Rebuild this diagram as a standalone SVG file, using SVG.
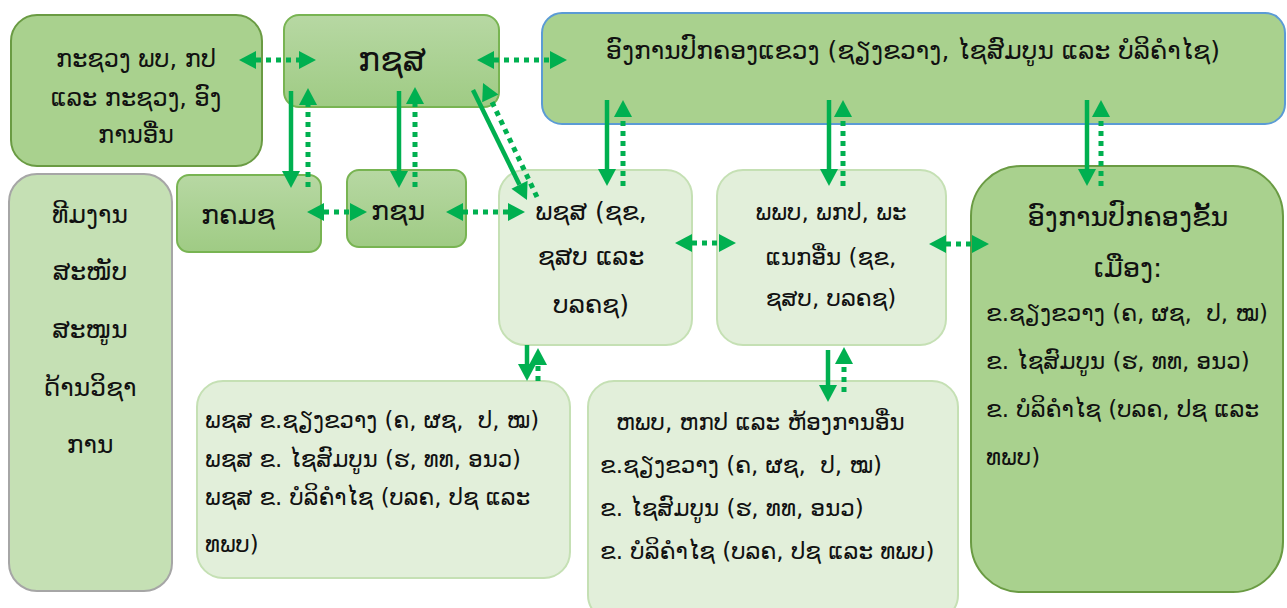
<svg xmlns="http://www.w3.org/2000/svg" width="1287" height="608" viewBox="0 0 1287 608">
<defs>
<linearGradient id="gd" x1="0" y1="0" x2="0" y2="1">
<stop offset="0" stop-color="#b7d8a3"/>
<stop offset="1" stop-color="#9fcb84"/>
</linearGradient>
<marker id="ah" markerUnits="userSpaceOnUse" markerWidth="18" markerHeight="18" refX="0" refY="9" orient="auto-start-reverse" overflow="visible">
<path d="M0,0 L17,9 L0,18 z" fill="#00b050"/>
</marker>
<style>
text{font-family:"DejaVu Sans","Noto Sans",sans-serif;fill:#111;white-space:pre}
.mid{fill:#a9d18e;stroke:#6a9b43;stroke-width:2}
.dk{fill:url(#gd);stroke:#78b452;stroke-width:2}
.lt{fill:#e2efda;stroke:#c5e0b4;stroke-width:2}
.gr{fill:#c5e0b4;stroke:#a6a6a6;stroke-width:2}
.sol{stroke:#00b050;stroke-width:4.5;fill:none;marker-end:url(#ah)}
.dot{stroke:#00b050;stroke-width:5;fill:none;stroke-dasharray:5 5;marker-end:url(#ah)}
.bi{stroke:#00b050;stroke-width:5;fill:none;stroke-dasharray:5 5;marker-start:url(#ah);marker-end:url(#ah)}
.c{text-anchor:middle}
</style>
</defs>

<g id="node-ministries">
<rect class="mid" x="11" y="15" width="251" height="151" rx="26"/>
<text class="c" x="136" y="67" font-size="24">ກະຊວງ ພບ, ກປ</text>
<text class="c" x="136" y="106" font-size="24">ແລະ ກະຊວງ, ອົງ</text>
<text class="c" x="136" y="143" font-size="24">ການອື່ນ</text>
</g>

<g id="node-kss">
<rect class="dk" x="284" y="15" width="215" height="92" rx="15"/>
<text class="c" x="392" y="71" font-size="33">ກຊສ</text>
</g>

<g id="node-province">
<rect x="542" y="13" width="743" height="111" rx="20" fill="#a9d18e" stroke="#5b9bd5" stroke-width="2"/>
<text class="c" x="913" y="59" font-size="25">ອົງການປົກຄອງແຂວງ (ຊຽງຂວາງ, ໄຊສົມບູນ ແລະ ບໍລິຄໍາໄຊ)</text>
</g>

<g id="node-kkmk">
<rect class="dk" x="177" y="175" width="144" height="77" rx="12"/>
<text x="201" y="224" font-size="27">ກຄມຊ</text>
</g>

<g id="node-ksn">
<rect class="dk" x="347" y="170" width="119" height="77" rx="12"/>
<text x="371" y="220" font-size="27">ກຊນ</text>
</g>

<g id="node-team">
<rect class="gr" x="9" y="174" width="163" height="417" rx="28"/>
<text class="c" x="90" y="223" font-size="25">ທີມງານ</text>
<text class="c" x="90" y="280" font-size="25">ສະໜັບ</text>
<text class="c" x="90" y="338" font-size="25">ສະໜູນ</text>
<text class="c" x="90" y="396" font-size="25">ດ້ານວິຊາ</text>
<text class="c" x="90" y="453" font-size="25">ການ</text>
</g>

<g id="node-pkss">
<rect class="lt" x="499" y="170" width="193" height="175" rx="26"/>
<text class="c" x="591" y="220" font-size="25">ພຊສ (ຊຂ,</text>
<text class="c" x="591" y="265" font-size="25">ຊສບ ແລະ</text>
<text class="c" x="591" y="313" font-size="25">ບລຄຊ)</text>
</g>

<g id="node-ppb">
<rect class="lt" x="717" y="170" width="229" height="175" rx="26"/>
<text class="c" x="831" y="220" font-size="23">ພພບ, ພກປ, ພະ</text>
<text class="c" x="831" y="265" font-size="23">ແນກອື່ນ (ຊຂ,</text>
<text class="c" x="831" y="306" font-size="23">ຊສບ, ບລຄຊ)</text>
</g>

<g id="node-district">
<rect class="mid" x="971" y="166" width="312" height="426" rx="50" stroke="#70ad47"/>
<text class="c" x="1128" y="226" font-size="27">ອົງການປົກຄອງຂັ້ນ</text>
<text class="c" x="1128" y="277" font-size="27">ເມືອງ:</text>
<text x="986" y="321" font-size="23">ຂ.ຊຽງຂວາງ (ຄ, ຜຊ,  ປ, ໝ)</text>
<text x="986" y="369" font-size="23">ຂ. ໄຊສົມບູນ (ຮ, ທທ, ອນວ)</text>
<text x="986" y="417" font-size="23">ຂ. ບໍລິຄໍາໄຊ (ບລຄ, ປຊ ແລະ</text>
<text x="986" y="465" font-size="23">ທພບ)</text>
</g>

<g id="node-pkss-districts">
<rect class="lt" x="197" y="381" width="373" height="197" rx="26"/>
<text x="205" y="428" font-size="22.8">ພຊສ ຂ.ຊຽງຂວາງ (ຄ, ຜຊ,  ປ, ໝ)</text>
<text x="205" y="467" font-size="22.8">ພຊສ ຂ. ໄຊສົມບູນ (ຮ, ທທ, ອນວ)</text>
<text x="205" y="505" font-size="22.8">ພຊສ ຂ. ບໍລິຄໍາໄຊ (ບລຄ, ປຊ ແລະ</text>
<text x="205" y="552" font-size="22.8">ທພບ)</text>
</g>

<g id="node-offices">
<rect class="lt" x="588" y="381" width="370" height="240" rx="26"/>
<text x="616" y="430" font-size="23">ຫພບ, ຫກປ ແລະ ຫ້ອງການອື່ນ</text>
<text x="600" y="473" font-size="23">ຂ.ຊຽງຂວາງ (ຄ, ຜຊ,  ປ, ໝ)</text>
<text x="600" y="516" font-size="23">ຂ. ໄຊສົມບູນ (ຮ, ທທ, ອນວ)</text>
<text x="600" y="559" font-size="23">ຂ. ບໍລິຄໍາໄຊ (ບລຄ, ປຊ ແລະ ທພບ)</text>
</g>

<g id="connectors">
<line class="bi" x1="256" y1="60" x2="299" y2="60"/>
<line class="bi" x1="494" y1="60" x2="550" y2="60"/>
<line class="bi" x1="324" y1="212" x2="350" y2="212"/>
<line class="bi" x1="463" y1="212" x2="508" y2="212"/>
<line class="bi" x1="692" y1="243" x2="719" y2="243"/>
<line class="bi" x1="946" y1="244" x2="972" y2="244"/>

<line class="sol" x1="291" y1="91" x2="291" y2="171"/>
<line class="dot" x1="308" y1="187" x2="308" y2="105"/>
<line class="sol" x1="399" y1="91" x2="399" y2="171"/>
<line class="dot" x1="415" y1="187" x2="415" y2="104"/>
<line class="sol" x1="473" y1="90" x2="519.5" y2="184.7"/>
<line class="dot" x1="537" y1="197" x2="490.3" y2="98.4"/>

<line class="sol" x1="607" y1="100" x2="607" y2="169"/>
<line class="dot" x1="623" y1="186" x2="623" y2="117"/>
<line class="sol" x1="829" y1="100" x2="829" y2="169"/>
<line class="dot" x1="843" y1="186" x2="843" y2="117"/>
<line class="sol" x1="1087" y1="100" x2="1087" y2="169"/>
<line class="dot" x1="1101" y1="186" x2="1101" y2="117"/>

<line class="sol" x1="527" y1="345" x2="527" y2="364"/>
<line class="dot" x1="538" y1="381" x2="538" y2="365"/>
<line class="sol" x1="828" y1="350" x2="828" y2="385"/>
<line class="dot" x1="844" y1="392" x2="844" y2="364"/>
</g>
</svg>
